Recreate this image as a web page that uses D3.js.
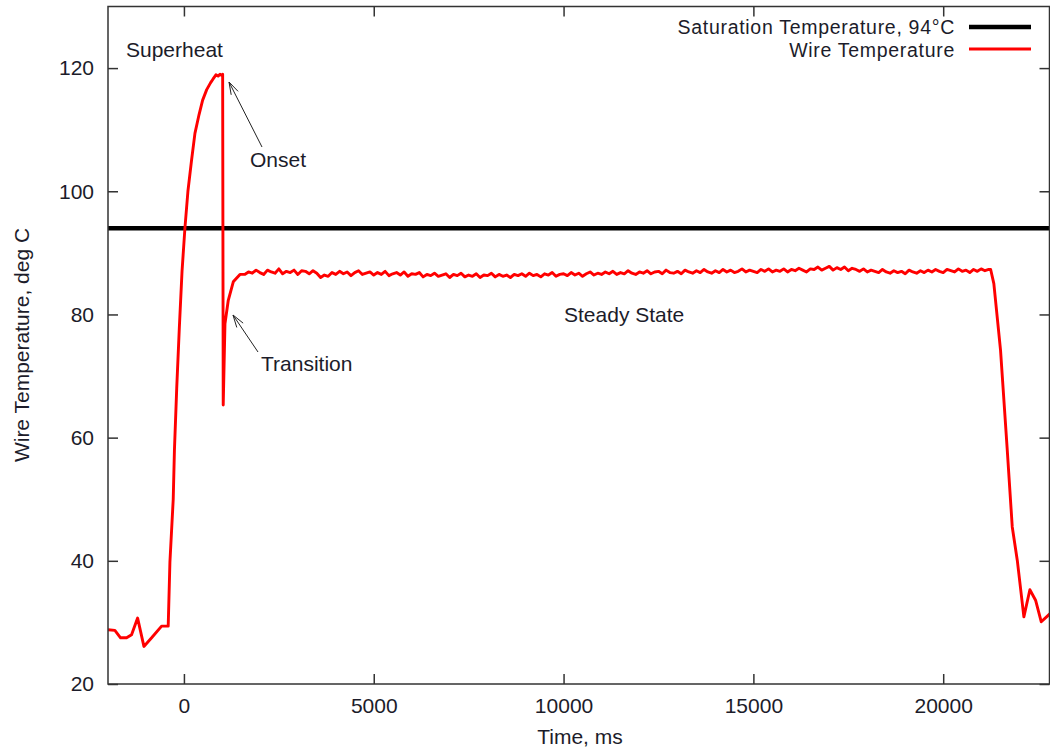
<!DOCTYPE html>
<html>
<head>
<meta charset="utf-8">
<script src="https://cdn.jsdelivr.net/npm/d3@7"></script>
<style>
  html, body { margin: 0; padding: 0; background: #fff; }
  svg { display: block; font-family: "Liberation Sans", Arial, sans-serif; }
</style>
</head>
<body>
<svg id="chart" width="1050" height="751"></svg>
<script>
// ---- data ----
const xTicks = [0, 5000, 10000, 15000, 20000];
const yTicks = [20, 40, 60, 80, 100, 120];
const saturationTemp = 94;

// wire temperature: time (ms) and value (deg C)
const timeMs = [
  -2000, -1819, -1669, -1510, -1379, -1220, -1054, -851, -588, -414,
  -369, -282, -250, -190, -120, -50, 26, 105, 200, 290,
  400, 493, 600, 700, 764, 843, 900, 950, 1000, 1020,
  1035, 1081, 1168, 1300, 1476,
  1600, 1700, 1800, 1900, 2000, 2100, 2200, 2300, 2400, 2500,
  2600, 2700, 2800, 2900, 3000, 3100, 3200, 3300, 3400, 3500,
  3600, 3700, 3800, 3900, 4000, 4100, 4200, 4300, 4400, 4500,
  4600, 4700, 4800, 4900, 5000, 5100, 5200, 5300, 5400, 5500,
  5600, 5700, 5800, 5900, 6000, 6100, 6200, 6300, 6400, 6500,
  6600, 6700, 6800, 6900, 7000, 7100, 7200, 7300, 7400, 7500,
  7600, 7700, 7800, 7900, 8000, 8100, 8200, 8300, 8400, 8500,
  8600, 8700, 8800, 8900, 9000, 9100, 9200, 9300, 9400, 9500,
  9600, 9700, 9800, 9900, 10000, 10100, 10200, 10300, 10400, 10500,
  10600, 10700, 10800, 10900, 11000, 11100, 11200, 11300, 11400, 11500,
  11600, 11700, 11800, 11900, 12000, 12100, 12200, 12300, 12400, 12500,
  12600, 12700, 12800, 12900, 13000, 13100, 13200, 13300, 13400, 13500,
  13600, 13700, 13800, 13900, 14000, 14100, 14200, 14300, 14400, 14500,
  14600, 14700, 14800, 14900, 15000, 15100, 15200, 15300, 15400, 15500,
  15600, 15700, 15800, 15900, 16000, 16100, 16200, 16300, 16400, 16500,
  16600, 16700, 16800, 16900, 17000, 17100, 17200, 17300, 17400, 17500,
  17600, 17700, 17800, 17900, 18000, 18100, 18200, 18300, 18400, 18500,
  18600, 18700, 18800, 18900, 19000, 19100, 19200, 19300, 19400, 19500,
  19600, 19700, 19800, 19900, 20000, 20100, 20200, 20300, 20400, 20500,
  20600, 20700, 20800, 20900, 21000, 21100, 21200, 21250,
  21334, 21510, 21687, 21819, 21951, 22125, 22283, 22433, 22583, 22828
];
const wireTemp = [
  28.8, 28.7, 27.5, 27.5, 28.0, 30.7, 26.1, 27.5, 29.4, 29.4,
  39.8, 50.0, 58.0, 68.0, 78.0, 87.0, 94.0, 100.0, 105.0, 109.4,
  112.5, 114.8, 116.5, 117.6, 118.2, 118.9, 118.7, 119.0, 118.8, 119.0,
  65.3, 78.5, 82.3, 85.3, 86.5,
  86.5, 86.9, 86.7, 87.2, 86.8, 86.5, 87.2, 86.9, 86.7, 87.4,
  86.6, 87.0, 86.8, 87.2, 86.5, 87.1, 87.0, 86.6, 87.1, 86.7,
  86.0, 86.4, 86.2, 86.8, 86.5, 87.0, 86.6, 86.9, 86.3, 86.8,
  87.1, 86.5, 86.7, 86.9, 86.4, 86.8, 86.5, 87.0, 86.3, 86.6,
  86.8, 86.4, 86.9, 86.2, 86.6, 86.5, 86.8, 86.1, 86.5, 86.3,
  86.7, 86.2, 86.4, 86.6, 86.0, 86.5, 86.3, 86.7, 86.1, 86.4,
  86.2, 86.6, 86.0, 86.4, 86.3, 86.7, 86.1, 86.5, 86.2, 86.4,
  86.0, 86.5, 86.3, 86.6, 86.2, 86.7, 86.3, 86.5, 86.1, 86.6,
  86.4, 86.8, 86.2, 86.5, 86.6, 86.3, 86.8, 86.4, 86.7, 86.2,
  86.6, 86.9, 86.4, 86.7, 86.5, 86.9, 86.6, 87.0, 86.5, 86.8,
  86.6, 87.1, 86.7, 86.5, 86.9, 86.7, 87.1, 86.6, 86.9, 87.0,
  86.6, 87.2, 86.8, 86.7, 87.0, 86.6, 87.2, 86.9, 86.7, 87.1,
  86.8, 87.3, 86.9, 86.7, 87.1, 86.8, 87.3, 86.9, 87.2, 86.8,
  87.0, 87.4, 86.9, 87.2, 87.0, 86.8, 87.3, 87.0, 87.4, 86.9,
  87.2, 87.0, 87.4, 86.9, 87.3, 87.1, 87.5, 87.2, 86.9, 87.4,
  87.3, 87.7, 87.2, 87.5, 87.8, 87.2, 87.6, 87.3, 87.7, 87.1,
  87.5, 87.3, 87.0, 87.4, 86.9, 87.2, 87.0, 86.8, 87.3, 86.9,
  86.7, 87.1, 86.8, 87.0, 86.6, 87.2, 86.9, 86.7, 87.1, 86.8,
  87.2, 86.9, 87.3, 87.0, 86.8, 87.3, 87.1, 86.9, 87.4, 87.0,
  87.2, 86.8, 87.3, 87.0, 87.4, 87.1, 87.3, 87.3,
  85.0, 74.2, 58.0, 45.5, 40.1, 30.9, 35.3, 33.6, 30.1, 31.5
];

const legendLabels = ["Saturation Temperature, 94°C", "Wire Temperature"];

// ---- layout ----
const svg = d3.select("#chart");
const plotL = 108, plotR = 1049.5, plotT = 6.5, plotB = 684;
const x = d3.scaleLinear().domain([-2000, 22800]).range([plotL, plotR]);
const y = d3.scaleLinear().domain([20, 130]).range([plotB, plotT]);
const textColor = "#1c1c2a";
const axisColor = "#333";
const fontSize = 21;

svg.append("defs").append("clipPath").attr("id", "clip")
  .append("rect").attr("x", plotL).attr("y", plotT).attr("width", plotR - plotL).attr("height", plotB - plotT);

// saturation line
svg.append("line")
  .attr("x1", plotL).attr("x2", plotR)
  .attr("y1", y(saturationTemp)).attr("y2", y(saturationTemp))
  .attr("stroke", "#000").attr("stroke-width", 4.5);

// wire temperature line
const pts = timeMs.map((t, i) => [t, wireTemp[i]]);
svg.append("path")
  .datum(pts)
  .attr("clip-path", "url(#clip)")
  .attr("fill", "none")
  .attr("stroke", "#ff0000")
  .attr("stroke-width", 2.9)
  .attr("stroke-linejoin", "round")
  .attr("d", d3.line().x(d => x(d[0])).y(d => y(d[1])));

// axes
function styleAxis(g) {
  g.select(".domain").remove();
  g.selectAll(".tick line").attr("stroke", axisColor).attr("stroke-width", 1.5);
  g.selectAll(".tick text").attr("fill", textColor).attr("font-size", fontSize)
    .attr("font-family", "Liberation Sans, Arial, sans-serif");
}
svg.append("g").attr("transform", `translate(${plotL},0)`)
  .call(d3.axisLeft(y).tickValues(yTicks).tickSizeInner(-10).tickSizeOuter(0).tickPadding(14))
  .call(styleAxis);
svg.append("g").attr("transform", `translate(${plotR},0)`)
  .call(d3.axisRight(y).tickValues(yTicks).tickSizeInner(-10).tickSizeOuter(0).tickFormat(""))
  .call(styleAxis);
svg.append("g").attr("transform", `translate(0,${plotB})`)
  .call(d3.axisBottom(x).tickValues(xTicks).tickSizeInner(-10).tickSizeOuter(0).tickPadding(14).tickFormat(d3.format("d")))
  .call(styleAxis);
svg.append("g").attr("transform", `translate(0,${plotT})`)
  .call(d3.axisTop(x).tickValues(xTicks).tickSizeInner(-10).tickSizeOuter(0).tickFormat(""))
  .call(styleAxis);

// border
svg.append("rect")
  .attr("x", plotL).attr("y", plotT).attr("width", plotR - plotL).attr("height", plotB - plotT)
  .attr("fill", "none").attr("stroke", axisColor).attr("stroke-width", 1.5);

// axis titles
svg.append("text").attr("x", 580).attr("y", 744).attr("text-anchor", "middle")
  .attr("fill", textColor).attr("font-size", fontSize).text("Time, ms");
svg.append("text").attr("transform", "translate(29,345) rotate(-90)").attr("text-anchor", "middle")
  .attr("fill", textColor).attr("font-size", fontSize).text("Wire Temperature, deg C");

// legend
svg.append("text").attr("x", 955).attr("y", 34).attr("text-anchor", "end")
  .attr("fill", textColor).attr("font-size", 19.5).attr("letter-spacing", 0.7)
  .text(legendLabels[0]);
svg.append("line").attr("x1", 969).attr("x2", 1031).attr("y1", 27).attr("y2", 27)
  .attr("stroke", "#000").attr("stroke-width", 4.5);
svg.append("text").attr("x", 955).attr("y", 57).attr("text-anchor", "end")
  .attr("fill", textColor).attr("font-size", 19.5).attr("letter-spacing", 0.7)
  .text(legendLabels[1]);
svg.append("line").attr("x1", 969).attr("x2", 1031).attr("y1", 49).attr("y2", 49)
  .attr("stroke", "#ff0000").attr("stroke-width", 3);

// annotations
function label(txt, xx, yy) {
  svg.append("text").attr("x", xx).attr("y", yy).attr("fill", textColor)
    .attr("font-size", fontSize).text(txt);
}
label("Superheat", 126, 57);
label("Onset", 250, 167);
label("Transition", 261, 371);
label("Steady State", 564, 322);

function arrow(x1, y1, x2, y2) {
  svg.append("line").attr("x1", x1).attr("y1", y1).attr("x2", x2).attr("y2", y2)
    .attr("stroke", "#222").attr("stroke-width", 1);
  const ang = Math.atan2(y2 - y1, x2 - x1);
  const len = 13, spread = 0.3;
  const p = [
    [x2 - len * Math.cos(ang - spread), y2 - len * Math.sin(ang - spread)],
    [x2, y2],
    [x2 - len * Math.cos(ang + spread), y2 - len * Math.sin(ang + spread)]
  ];
  svg.append("path").attr("d", d3.line()(p)).attr("fill", "none")
    .attr("stroke", "#222").attr("stroke-width", 1);
}
arrow(262, 147, 229, 82);
arrow(258, 352, 233, 315);
</script>
</body>
</html>
